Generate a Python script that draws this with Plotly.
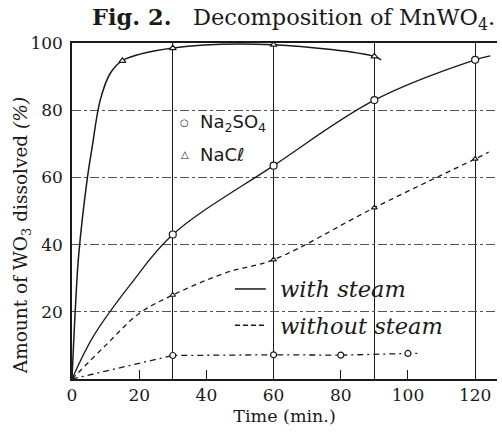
import plotly.graph_objects as go

# ---- data ----
# NaCl, with steam (solid curve, triangles)
nacl_steam_curve_t = [0, 1, 2, 4.6, 6, 8.4, 11.4, 14.9, 30, 60, 90, 92]
nacl_steam_curve_v = [0, 21, 37, 60, 69, 83, 91, 94.7, 98.5, 99.5, 96, 95]
nacl_steam_pts_t = [15, 30, 60, 90]
nacl_steam_pts_v = [94.7, 98.5, 99.5, 96]

# Na2SO4, with steam (solid curve, circles)
na2so4_steam_t = [0, 6.3, 17.3, 30, 60, 90, 120, 124.5]
na2so4_steam_v = [0, 12.6, 28, 43, 63.5, 83, 95, 96.2]
na2so4_steam_pts_t = [30, 60, 90, 120]
na2so4_steam_pts_v = [43, 63.5, 83, 95]

# NaCl, without steam (dashed)
nacl_nosteam_t = [0, 10, 20, 30, 46, 60, 90, 120, 124]
nacl_nosteam_v = [0, 10, 19.5, 25, 31.7, 35.5, 51, 65.5, 67.5]
nacl_nosteam_pts_t = [30, 60, 90, 120]
nacl_nosteam_pts_v = [25, 35.5, 51, 65.5]

# Na2SO4, without steam (dash-dot)
na2so4_nosteam_t = [0, 30, 60, 80, 100, 103]
na2so4_nosteam_v = [0, 7, 7.2, 7.1, 7.6, 7.6]
na2so4_nosteam_pts_t = [30, 60, 80, 100]
na2so4_nosteam_pts_v = [7, 7.2, 7.1, 7.6]

x_ticks = [0, 20, 40, 60, 80, 100, 120]
y_ticks = [20, 40, 60, 80, 100]
x_grid = [30, 60, 90, 120]

INK = "#1a1a1a"
SERIF = "DejaVu Serif"

fig = go.Figure()

def curve(t, v, dash, shape="spline", width=1.3):
    line = dict(color=INK, width=width, dash=dash, shape=shape)
    if shape == "spline":
        line["smoothing"] = 1.0
    fig.add_trace(go.Scatter(x=t, y=v, mode="lines", line=line,
                             showlegend=False, hoverinfo="skip"))

def pts(t, v, symbol, size):
    fig.add_trace(go.Scatter(x=t, y=v, mode="markers",
                             marker=dict(symbol=symbol, size=size, color="white",
                                         line=dict(color=INK, width=1.2)),
                             showlegend=False, hoverinfo="skip"))

curve(nacl_steam_curve_t, nacl_steam_curve_v, "solid", width=1.5)
curve(na2so4_steam_t, na2so4_steam_v, "solid")
curve(nacl_nosteam_t, nacl_nosteam_v, "5px,4px")
curve(na2so4_nosteam_t, na2so4_nosteam_v, "6px,4px,2px,4px", shape="linear")

pts(nacl_steam_pts_t, nacl_steam_pts_v, "triangle-up", 6)
pts(na2so4_steam_pts_t, na2so4_steam_pts_v, "circle", 7)
pts(nacl_nosteam_pts_t, nacl_nosteam_pts_v, "triangle-up", 5)
pts(na2so4_nosteam_pts_t, na2so4_nosteam_pts_v, "circle", 6)

# legend-like annotations
fig.add_annotation(x=33.6, y=76.2, xref="x", yref="y", text="○", showarrow=False,
                   font=dict(family="DejaVu Sans", size=10, color=INK))
fig.add_annotation(x=37.5, y=76.2, xref="x", yref="y", text="Na<sub>2</sub>SO<sub>4</sub>",
                   xanchor="left", showarrow=False,
                   font=dict(family="DejaVu Sans", size=18, color=INK))
fig.add_annotation(x=33.6, y=66.7, xref="x", yref="y", text="△", showarrow=False,
                   font=dict(family="DejaVu Sans", size=10, color=INK))
fig.add_annotation(x=37.5, y=66.7, xref="x", yref="y", text="NaCℓ",
                   xanchor="left", showarrow=False,
                   font=dict(family="DejaVu Sans", size=18, color=INK))

fig.add_shape(type="line", x0=48.5, x1=57.7, y0=26.8, y1=26.8, xref="x", yref="y",
              line=dict(color=INK, width=1.5))
fig.add_shape(type="line", x0=48.5, x1=57.7, y0=16, y1=16, xref="x", yref="y",
              line=dict(color=INK, width=1.3, dash="5px,3px"))
fig.add_annotation(x=61.3, y=26.8, xref="x", yref="y", text="with steam", xanchor="left",
                   showarrow=False, font=dict(family=SERIF, size=22.5, color=INK, style="italic"))
fig.add_annotation(x=61.3, y=15.8, xref="x", yref="y", text="without steam", xanchor="left",
                   showarrow=False, font=dict(family=SERIF, size=22.5, color=INK, style="italic"))

# y-axis title as a rotated annotation
fig.add_annotation(x=-50 / 425, y=0.425, xref="paper", yref="paper",
                   text="Amount of WO<sub>3</sub> dissolved <i>(%)</i>", textangle=-90,
                   xanchor="center", yanchor="middle", showarrow=False,
                   font=dict(family=SERIF, size=18.5, color=INK))

fig.update_layout(
    width=502, height=434,
    margin=dict(l=72, r=5, t=43, b=55),
    paper_bgcolor="white", plot_bgcolor="white",
    font=dict(family=SERIF, size=17, color=INK),
    title=dict(text="<b>Fig. 2.</b>   Decomposition of MnWO<sub>4</sub>.",
               x=0.585, xanchor="center", y=0.96, yanchor="middle",
               font=dict(family=SERIF, size=22.5, color=INK)),
)

fig.update_xaxes(
    range=[0, 126.5], tickvals=x_ticks, ticks="inside", ticklen=9, tickcolor=INK,
    showgrid=False, zeroline=False, showline=True, linecolor=INK, linewidth=1.5,
    mirror=True,
    minor=dict(tickvals=x_grid, showgrid=True, gridcolor=INK, gridwidth=1, ticks=""),
    title=dict(text="Time (min.)", standoff=6, font=dict(size=17.5)),
    tickfont=dict(size=17),
)
fig.update_yaxes(
    range=[0, 100], tickvals=y_ticks, ticks="", showgrid=True, gridcolor="#555555",
    griddash="dashdot", gridwidth=1, zeroline=False, showline=True, linecolor=INK,
    linewidth=1.5, ticklabelstandoff=4,
    tickfont=dict(size=17),
)

fig.write_html("out.html")
